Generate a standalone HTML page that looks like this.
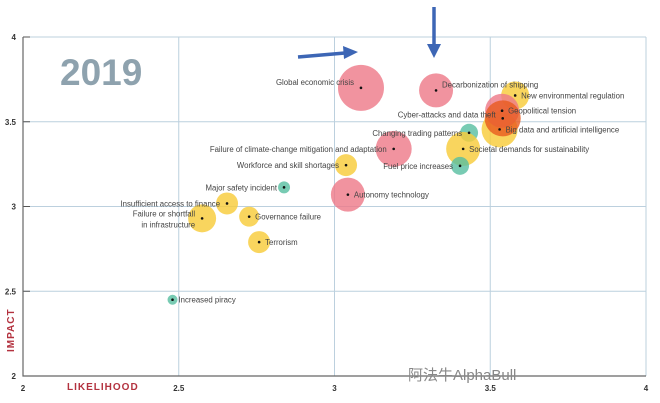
<!DOCTYPE html>
<html><head><meta charset="utf-8"><style>
body{margin:0;background:#fff;}
svg{display:block;font-family:"Liberation Sans","Noto Sans CJK SC",sans-serif;}
</style></head><body>
<svg id="chart" width="660" height="403" viewBox="0 0 660 403"></svg>
<script>
const names = ["Global economic crisis","Decarbonization of shipping","New environmental regulation","Big data and artificial intelligence","Geopolitical tension","Cyber-attacks and data theft","Changing trading patterns","Societal demands for sustainability","Fuel price increases","Failure of climate-change mitigation and adaptation","Workforce and skill shortages","Autonomy technology","Major safety incident","Insufficient access to finance","Failure or shortfall|in infrastructure","Governance failure","Terrorism","Increased piracy"];
const likelihood = [3.085,3.326,3.58,3.53,3.538,3.54,3.432,3.413,3.403,3.19,3.037,3.043,2.838,2.655,2.575,2.726,2.758,2.48];
const impact = [3.70,3.685,3.655,3.455,3.565,3.52,3.435,3.34,3.24,3.34,3.244,3.07,3.113,3.018,2.93,2.94,2.79,2.45];
const sizes = [23,17,14,18,17,18,9,17,9,18,11,17,6,11,14,10,11,5];
const colors = ["p","p","y","y","p","o","t","y","t","p","y","p","t","y","y","y","y","t"];
const labelSide = ["l","r","r","r","r","l","l","r","l","l","l","r","l","l","l","r","r","r"];
const xTicks = [2,2.5,3,3.5,4];
const yTicks = [2,2.5,3,3.5,4];
const fill = {p:"rgba(238,120,135,0.8)",y:"rgba(248,204,58,0.82)",t:"rgba(86,190,160,0.8)",o:"rgba(232,90,30,0.8)"};
const X = v => 23 + (v-2)*311.5;
const Y = v => 376 - (v-2)*169.5;
const svg = document.getElementById('chart');
const NS = "http://www.w3.org/2000/svg";
function mk(tag, attrs, parent){const e=document.createElementNS(NS,tag);for(const k in attrs)e.setAttribute(k,attrs[k]);(parent||svg).appendChild(e);return e;}
xTicks.forEach(t=>{ if(t>2){const l=mk('line',{x1:X(t),x2:X(t),y1:Y(4),y2:Y(2),stroke:"#bcd0de","stroke-width":1});

}
 const tx=mk('text',{x:X(t),y:391,"font-size":8,"font-weight":"bold",fill:"#333","text-anchor":"middle"});tx.textContent=t;
 
 
});
yTicks.forEach(t=>{ if(t>2){const l=mk('line',{x1:X(2),x2:X(4),y1:Y(t),y2:Y(t),stroke:"#bcd0de","stroke-width":1});


 mk('line',{x1:X(2),x2:X(2)+7,y1:Y(t),y2:Y(t),stroke:"#555","stroke-width":1});}
 const tx=mk('text',{x:16,y:Y(t)+3,"font-size":8,"font-weight":"bold",fill:"#333","text-anchor":"end"});tx.textContent=t;
 
 
});
const ax=mk('path',{d:`M${X(2)},${Y(4)} V${Y(2)} H${X(4)}`,stroke:"#666","stroke-width":1.2,fill:"none"});


const yr=mk('text',{x:60,y:85,"font-size":37,"font-weight":"bold",fill:"#8ea2ae"});yr.textContent="2019";


const xt=mk('text',{x:67,y:390,"font-size":10,"font-weight":"bold",fill:"#b3323f","letter-spacing":"1"});xt.textContent="LIKELIHOOD";


const yt=mk('text',{x:0,y:0,"font-size":10,"font-weight":"bold",fill:"#b3323f","letter-spacing":"1",transform:"translate(14,352) rotate(-90)"});yt.textContent="IMPACT";


names.forEach((n,i)=>{
 const cx=X(likelihood[i]), cy=Y(impact[i]);
 const c=mk('circle',{cx:cx,cy:cy,r:sizes[i],fill:fill[colors[i]]});
 
 
});
names.forEach((n,i)=>{
 mk('circle',{cx:X(likelihood[i]),cy:Y(impact[i]),r:1.3,fill:"#111"});
});
names.forEach((n,i)=>{
 const cx=X(likelihood[i]), cy=Y(impact[i]);
 const lines=n.split('|');
 const left=labelSide[i]==='l';
 const off = i===0||i===1?-3:(i===14?-2:(i===5?-1:3));
 lines.forEach((s,j)=>{
  const t=mk('text',{x:left?cx-7:cx+6,y:cy+off+j*11,"font-size":7.8,fill:"#444","text-anchor":left?"end":"start"});
  t.textContent=s;
  
  
 });
});
const a1=mk('g',{});
mk('line',{x1:298,y1:57,x2:345,y2:53,stroke:"#3d66b5","stroke-width":3.5},a1);
mk('polygon',{points:"343,46 358,52 344,59",fill:"#3d66b5"},a1);
const a2=mk('g',{});
mk('line',{x1:434,y1:7,x2:434,y2:46,stroke:"#3d66b5","stroke-width":3.5},a2);
mk('polygon',{points:"427,44 441,44 434,58",fill:"#3d66b5"},a2);
const wm=mk('text',{x:408,y:380,"font-size":15,fill:"#888"});wm.textContent="阿法牛AlphaBull";


</script>
</body></html>
